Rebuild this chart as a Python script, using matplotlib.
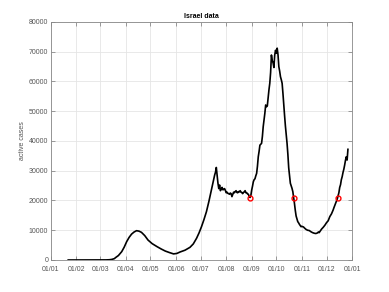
import numpy as np
import matplotlib
matplotlib.use('Agg')
import matplotlib.pyplot as plt
import matplotlib.dates as mdates

# active cases
dates = ['2020-01-22', '2020-02-21', '2020-03-01', '2020-03-08', '2020-03-12', '2020-03-15',
         '2020-03-18', '2020-03-20', '2020-03-23', '2020-03-27', '2020-03-30', '2020-04-02',
         '2020-04-05', '2020-04-08', '2020-04-11', '2020-04-14', '2020-04-17', '2020-04-20',
         '2020-04-24', '2020-04-28', '2020-05-03', '2020-05-09', '2020-05-14', '2020-05-19',
         '2020-05-24', '2020-05-29', '2020-06-02', '2020-06-06', '2020-06-12', '2020-06-18',
         '2020-06-22', '2020-06-26', '2020-06-29', '2020-07-02', '2020-07-05', '2020-07-08',
         '2020-07-11', '2020-07-14', '2020-07-16', '2020-07-18', '2020-07-19', '2020-07-20',
         '2020-07-21', '2020-07-22', '2020-07-23', '2020-07-24', '2020-07-25', '2020-07-26',
         '2020-07-27', '2020-07-28', '2020-07-29', '2020-07-30', '2020-07-31', '2020-08-01',
         '2020-08-02', '2020-08-03', '2020-08-04', '2020-08-05', '2020-08-06', '2020-08-07',
         '2020-08-08', '2020-08-09', '2020-08-10', '2020-08-11', '2020-08-12', '2020-08-13',
         '2020-08-14', '2020-08-15', '2020-08-16', '2020-08-17', '2020-08-18', '2020-08-19',
         '2020-08-20', '2020-08-21', '2020-08-22', '2020-08-23', '2020-08-24', '2020-08-25',
         '2020-08-26', '2020-08-27', '2020-08-28', '2020-08-29', '2020-08-30', '2020-08-31',
         '2020-09-01', '2020-09-02', '2020-09-03', '2020-09-04', '2020-09-05', '2020-09-06',
         '2020-09-07', '2020-09-08', '2020-09-09', '2020-09-10', '2020-09-11', '2020-09-12',
         '2020-09-13', '2020-09-14', '2020-09-15', '2020-09-16', '2020-09-17', '2020-09-18',
         '2020-09-19', '2020-09-20', '2020-09-21', '2020-09-22', '2020-09-23', '2020-09-24',
         '2020-09-25', '2020-09-26', '2020-09-27', '2020-09-28', '2020-09-29', '2020-09-30',
         '2020-10-01', '2020-10-02', '2020-10-03', '2020-10-04', '2020-10-05', '2020-10-06',
         '2020-10-07', '2020-10-08', '2020-10-09', '2020-10-10', '2020-10-11', '2020-10-12',
         '2020-10-13', '2020-10-14', '2020-10-15', '2020-10-16', '2020-10-17', '2020-10-18',
         '2020-10-19', '2020-10-20', '2020-10-21', '2020-10-22', '2020-10-23', '2020-10-24',
         '2020-10-25', '2020-10-26', '2020-10-27', '2020-10-28', '2020-10-29', '2020-10-31',
         '2020-11-01', '2020-11-03', '2020-11-04', '2020-11-06', '2020-11-08', '2020-11-10',
         '2020-11-12', '2020-11-14', '2020-11-16', '2020-11-18', '2020-11-20', '2020-11-21',
         '2020-11-22', '2020-11-24', '2020-11-25', '2020-11-27', '2020-11-29', '2020-12-01',
         '2020-12-03', '2020-12-05', '2020-12-07', '2020-12-09', '2020-12-10', '2020-12-12',
         '2020-12-14', '2020-12-15', '2020-12-16', '2020-12-17', '2020-12-18', '2020-12-19',
         '2020-12-20', '2020-12-21', '2020-12-22', '2020-12-23', '2020-12-24', '2020-12-25',
         '2020-12-26', '2020-12-27']
active = [0, 1, 5, 30, 80, 200,
          450, 900, 1500, 2800, 4300, 6150,
          7600, 8700, 9400, 9850, 9700, 9300,
          8200, 6700, 5500, 4480, 3700, 3000,
          2500, 2050, 2200, 2700, 3300, 4260,
          5400, 7300, 9100, 11200, 13600, 16240,
          19700, 23500, 26000, 28570, 29500, 31100,
          28500, 25800, 24000, 25200, 23300, 23900,
          24400, 23600, 23700, 24000, 23400, 22600,
          22800, 22400, 22300, 22100, 22500, 22300,
          21300, 22100, 22800, 22600, 23000, 23300,
          22700, 22600, 23000, 22900, 23300, 22800,
          22700, 22300, 22700, 22900, 23300, 22600,
          22600, 22200, 22100, 21300, 21000, 21700,
          23500, 24800, 26300, 27000, 27300, 28300,
          29100, 31500, 34700, 36500, 38600, 38900,
          39200, 41500, 44800, 47000, 49300, 52100,
          51500, 51800, 54500, 57200, 59400, 63000,
          68900, 67000, 66300, 64700, 68900, 70500,
          69500, 71200, 69000, 65000, 63500, 61600,
          60600, 59400, 56000, 52000, 48500, 45000,
          42000, 39200, 35500, 31000, 28300, 25800,
          25000, 24100, 23000, 21000, 19000, 16700,
          14800, 13900, 12900, 12500, 12000, 11200,
          11300, 11100, 10800, 10300, 10000, 9900,
          9500, 9200, 9000, 8900, 9100, 9400,
          9200, 10000, 10400, 11000, 11700, 12550,
          13200, 14600, 15500, 16800, 17600, 19050,
          20500, 21500, 22600, 24400, 25300, 27000,
          28000, 29400, 30500, 31900, 33500, 34700,
          33600, 37200]

mark_dates = ['2020-08-30', '2020-10-22', '2020-12-15']
mark_vals = [21000, 21000, 21000]

plt.rcParams['font.family'] = ['Liberation Sans', 'DejaVu Sans']
fig = plt.figure(figsize=(3.89, 2.92), dpi=100)
ax = fig.add_axes([0.131, 0.1096, 0.774, 0.8151])

x = np.array(dates, dtype='datetime64[D]')
ax.plot(x, active, color='black', lw=1.2)
ax.plot(np.array(mark_dates, dtype='datetime64[D]'), mark_vals, 'o', mfc='none',
        mec='red', mew=1.0, ms=3.5)

ax.set_xlim(np.datetime64('2020-01-01'), np.datetime64('2021-01-01'))
ax.set_ylim(0, 80000)
ax.set_yticks(np.arange(0, 80001, 10000))
ax.xaxis.set_major_locator(mdates.MonthLocator())
ax.xaxis.set_major_formatter(mdates.DateFormatter('%d/%m'))

ax.grid(True, color='#e5e5e5', lw=0.6)
ax.set_axisbelow(True)
ax.tick_params(direction='in', top=True, right=True, length=3, width=0.5,
               labelsize=5, colors='#777777', labelcolor='#555555', pad=2)
ax.tick_params(axis='x', pad=4)
for s in ax.spines.values():
    s.set_color('#888888')
    s.set_linewidth(0.6)

ax.set_ylabel('active cases', fontsize=5, color='#555555', labelpad=2)
ax.set_title('Israel data', fontsize=5, fontweight='bold', pad=3)

fig.savefig('out.png', dpi=100)
